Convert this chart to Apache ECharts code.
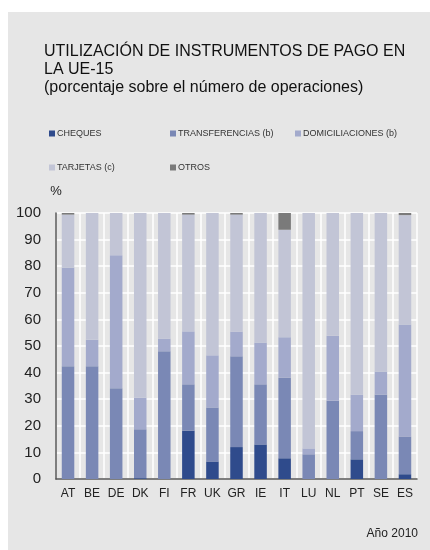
<!DOCTYPE html>
<html>
<head>
<meta charset="utf-8">
<script src="https://cdn.jsdelivr.net/npm/echarts@6/dist/echarts.min.js"></script>
<style>
	body{ margin:0; background:#fff; }
	#chart{ position:absolute; left:8px; top:12px; width:422px; height:538px; background:#e6e6e6; }
</style>
</head>
<body>
<div id="chart"></div>
<script>
	// paises UE-15
	var paises = ['AT', 'BE', 'DE', 'DK', 'FI', 'FR', 'UK', 'GR', 'IE', 'IT', 'LU', 'NL', 'PT', 'SE', 'ES'];
	// porcentajes por instrumento (tramos apilados)
	var cheques        = [0, 0, 0, 0.3, 0, 18.2, 6.6, 12.0, 13.0, 7.8, 0, 0, 7.4, 0, 1.8];
	var transferencias = [42.4, 42.4, 34.1, 18.4, 48.0, 17.4, 20.3, 34.1, 22.6, 30.4, 9.3, 29.4, 10.6, 31.8, 14.2];
	var domiciliaciones= [37.0, 10.0, 50.0, 11.9, 4.8, 19.9, 19.6, 9.3, 15.7, 15.1, 2.2, 24.5, 13.7, 8.6, 42.1];
	var tarjetas       = [20.0, 47.6, 15.9, 69.4, 47.2, 43.9, 53.5, 44.0, 48.7, 40.4, 88.5, 46.1, 68.3, 59.6, 41.1];
	var otros          = [0.6, 0, 0, 0, 0, 0.6, 0, 0.6, 0, 6.3, 0, 0, 0, 0, 0.8];

	var nombres = ['CHEQUES', 'TRANSFERENCIAS (b)', 'DOMICILIACIONES (b)', 'TARJETAS (c)', 'OTROS'];
	var colores = ['#2f4b8c', '#7a88b5', '#a3aacc', '#c2c5d6', '#7a7a7a'];
	var valores = [cheques, transferencias, domiciliaciones, tarjetas, otros];

	var series = []
	for (var i = 0; i < nombres.length; i++) {
		series.push({
			name: nombres[i],
			type: 'bar',
			stack: 'total',
			barWidth: '52%',
			data: valores[i],
			itemStyle: { color: colores[i] }
		})
	}

	// una leyenda por elemento para colocarlas como en el original
	var posLeyenda = [[36, 112], [157, 112], [282, 112], [36, 146], [157, 146]];
	var legends = []
	for (var j = 0; j < nombres.length; j++) {
		legends.push({
			data: [nombres[j]],
			left: posLeyenda[j][0],
			top: posLeyenda[j][1],
			icon: 'rect',
			itemWidth: 6,
			itemHeight: 6,
			selectedMode: false,
			textStyle: { color: '#333', fontSize: 9, fontFamily: 'Liberation Sans', padding: [0, 0, 0, -3] }
		})
	}

	var chart = echarts.init(document.getElementById('chart'));
	chart.setOption({
		backgroundColor: '#e6e6e6',
		animation: false,
		title: {
			text: 'UTILIZACIÓN DE INSTRUMENTOS DE PAGO EN\nLA UE-15\n(porcentaje sobre el número de operaciones)',
			left: 36,
			top: 31,
			padding: 0,
			textStyle: { color: '#111', fontSize: 16, fontWeight: 'normal', fontFamily: 'Liberation Sans', lineHeight: 18 }
		},
		legend: legends,
		grid: { left: 48, right: 13, top: 201, bottom: 71 },
		xAxis: {
			type: 'category',
			data: paises,
			axisTick: { show: false },
			axisLine: { lineStyle: { color: '#555', width: 1.5 } },
			axisLabel: { color: '#222', fontSize: 12, fontFamily: 'Liberation Sans', margin: 9, interval: 0 },
			splitLine: { show: true, interval: 0, lineStyle: { color: '#fff', width: 1.5 } }
		},
		yAxis: {
			type: 'value',
			min: 0,
			max: 100,
			interval: 10,
			name: '%',
			nameGap: 15,
			nameTextStyle: { color: '#222', fontSize: 13, fontFamily: 'Liberation Sans' },
			axisLine: { show: true, lineStyle: { color: '#555', width: 1.5 } },
			axisTick: { show: false },
			axisLabel: { color: '#222', fontSize: 15, fontFamily: 'Liberation Sans', margin: 15 },
			splitLine: { lineStyle: { color: '#fff', width: 1.5 } }
		},
		graphic: [{
			type: 'text',
			right: 12,
			top: 516,
			style: { text: 'Año 2010', fill: '#222', fontSize: 12, fontFamily: 'Liberation Sans' }
		}],
		series: series
	})
</script>
</body>
</html>
